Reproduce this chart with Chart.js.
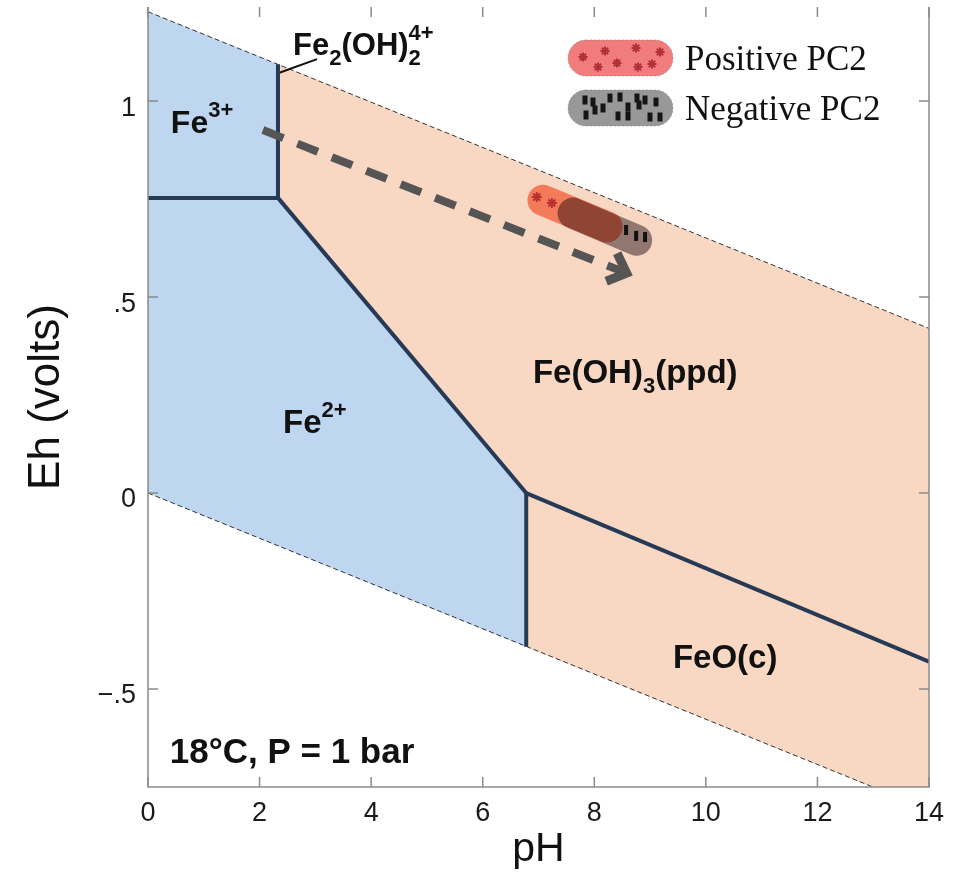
<!DOCTYPE html>
<html>
<head>
<meta charset="utf-8">
<script src="https://cdn.jsdelivr.net/npm/chart.js@4.4.0/dist/chart.umd.min.js"></script>
<style>
  html, body { margin: 0; padding: 0; background: #fff; }
  #wrap { width: 958px; height: 874px; }
</style>
</head>
<body>
<div id="wrap"><canvas id="chart" width="958" height="874"></canvas></div>
<script>
// axis ticks
const phTicks = [0, 2, 4, 6, 8, 10, 12, 14];
const ehTicks = [-0.5, 0, 0.5, 1];
const ehTickLabels = ['\u2212.5', '0', '.5', '1'];

// water stability limits (pH, Eh)
const o2LinePh = [0, 14];
const o2LineEh = [1.228, 0.42];
const h2LinePh = [0, 14];
const h2LineEh = [0, -0.808];

// phase boundaries
const fe3Fe2Ph = [0, 2.33];
const fe3Fe2Eh = [0.753, 0.753];
const fe3HydPh = [2.33, 2.33];
const fe3HydEh = [0.753, 1.094];
const fe2HydPh = [2.33, 6.78];
const fe2HydEh = [0.753, 0];
const fe2FeoPh = [6.78, 6.78];
const fe2FeoEh = [0, -0.392];
const hydFeoPh = [6.78, 14];
const hydFeoEh = [0, -0.43];
const leaderPh = [2.33, 3.03];
const leaderEh = [1.071, 1.107];

// stability fields (aqueous ions / solids)
const aqueousPh = [0, 2.33, 2.33, 6.78, 6.78, 0];
const aqueousEh = [1.228, 1.094, 0.753, 0, -0.392, 0];
const solidPh = [2.33, 14, 14, 6.78, 6.78, 2.33];
const solidEh = [1.094, 0.42, -0.808, -0.392, 0, 0.753];

// PC2 sample clusters
const posPc2Ph = [7.08, 8.23];
const posPc2Eh = [0.747, 0.679];
const negPc2Ph = [7.62, 8.76];
const negPc2Eh = [0.714, 0.645];
const posPointsPh = [6.97, 7.24];
const posPointsEh = [0.755, 0.74];
const negPointsPh = [8.57, 8.75, 8.91];
const negPointsEh = [0.671, 0.656, 0.653];

// trend arrow
const arrowPh = [2.06, 8.58];
const arrowEh = [0.926, 0.561];

const SANS = '"Liberation Sans", Arial, sans-serif';
const SERIF = '"Liberation Serif", "Times New Roman", serif';

function pts(xs, ys) {
    return xs.map((x, i) => ({ x: x, y: ys[i] }));
}

function lineSet(xs, ys, color, width, extra) {
    return Object.assign({
        data: pts(xs, ys),
        showLine: true,
        borderColor: color,
        borderWidth: width,
        pointRadius: 0,
        fill: false,
        order: 5
    }, extra || {});
}

const regionLabels = [
    { ph: 0.41, eh: 0.918, size: 32, parts: [{ t: 'Fe' }, { t: '3+', sup: true }] },
    { ph: 2.6, eh: 1.117, size: 31, parts: [{ t: 'Fe' }, { t: '2', sub: true }, { t: '(OH)' }, { t: '4+', sup: true, keep: true }, { t: '2', sub: true }] },
    { ph: 2.42, eh: 0.153, size: 33, parts: [{ t: 'Fe' }, { t: '2+', sup: true }] },
    { ph: 6.9, eh: 0.281, size: 33, parts: [{ t: 'Fe(OH)' }, { t: '3', sub: true }, { t: '(ppd)' }] },
    { ph: 9.41, eh: -0.446, size: 33, parts: [{ t: 'FeO(c)' }] },
    { ph: 0.39, eh: -0.689, size: 35, parts: [{ t: '18°C, P = 1 bar' }] }
];

const legendItems = [
    { label: 'Positive PC2', fill: 'rgb(241,124,124)', mark: 'star', markColor: 'rgb(176,50,56)' },
    { label: 'Negative PC2', fill: 'rgb(152,152,152)', mark: 'bar', markColor: '#151515' }
];

// decoration positions inside the legend capsules (offset from capsule left / middle)
const starMarks = [[15, -1], [37, -7], [30, 9], [49, 5], [68, -10], [70, 9], [84, 6], [92, -6]];
const barMarks = [[17, -8], [25, -6], [27, 2], [18, 7], [35, 0], [42, -10], [52, -11], [60, -1],
    [50, 8], [60, 8], [69, -10], [77, -8], [71, -3], [88, -6], [82, 9], [92, 9]];

const blendPlugin = {
    id: 'blend',
    beforeDatasetDraw(chart, args) {
        const ds = chart.data.datasets[args.index];
        if (ds.blend) {
            chart.ctx.save();
            chart.ctx.globalCompositeOperation = ds.blend;
        }
    },
    afterDatasetDraw(chart, args) {
        const ds = chart.data.datasets[args.index];
        if (ds.blend) chart.ctx.restore();
    }
};

const framePlugin = {
    id: 'frame',
    afterDatasetsDraw(chart) {
        const ctx = chart.ctx;
        const area = chart.chartArea;
        const xs = chart.scales.x;
        const ys = chart.scales.y;
        ctx.save();
        ctx.strokeStyle = '#8a8a8a';
        ctx.lineWidth = 1.5;
        ctx.beginPath();
        ctx.moveTo(area.left, area.top);
        ctx.lineTo(area.left, area.bottom);
        ctx.lineTo(area.right, area.bottom);
        ctx.lineTo(area.right, area.top);
        ctx.stroke();
        ctx.beginPath();
        phTicks.forEach(v => {
            const px = xs.getPixelForValue(v);
            ctx.moveTo(px, area.bottom);
            ctx.lineTo(px, area.bottom - 10);
            ctx.moveTo(px, area.top);
            ctx.lineTo(px, area.top + 10);
        });
        ehTicks.forEach(v => {
            const py = ys.getPixelForValue(v);
            ctx.moveTo(area.left, py);
            ctx.lineTo(area.left + 10, py);
            ctx.moveTo(area.right, py);
            ctx.lineTo(area.right - 10, py);
        });
        ctx.stroke();
        ctx.restore();
    }
};

const arrowPlugin = {
    id: 'arrowHead',
    afterDatasetsDraw(chart) {
        chart.data.datasets.forEach((ds, i) => {
            if (!ds.arrowHead) return;
            const pts = chart.getDatasetMeta(i).data;
            const a = pts[pts.length - 2];
            const b = pts[pts.length - 1];
            const ang = Math.atan2(b.y - a.y, b.x - a.x);
            const len = 22;
            const spread = 0.75;
            const ctx = chart.ctx;
            ctx.save();
            ctx.strokeStyle = ds.borderColor;
            ctx.lineWidth = ds.borderWidth + 1;
            ctx.lineJoin = 'miter';
            ctx.beginPath();
            ctx.moveTo(b.x - len * Math.cos(ang - spread), b.y - len * Math.sin(ang - spread));
            ctx.lineTo(b.x, b.y);
            ctx.lineTo(b.x - len * Math.cos(ang + spread), b.y - len * Math.sin(ang + spread));
            ctx.stroke();
            ctx.restore();
        });
    }
};

function drawRich(ctx, x, y, parts, size) {
    let cx = x;
    parts.forEach(p => {
        let fs = size;
        let dy = 0;
        if (p.sup) { fs = 22; dy = -0.5 * size; }
        if (p.sub) { fs = 22; dy = 0.3 * size; }
        ctx.font = 'bold ' + fs + 'px ' + SANS;
        ctx.fillText(p.t, cx, y + dy);
        if (!p.keep) cx += ctx.measureText(p.t).width;
    });
}

const labelPlugin = {
    id: 'labels',
    afterDraw(chart) {
        const ctx = chart.ctx;
        const xs = chart.scales.x;
        const ys = chart.scales.y;
        const area = chart.chartArea;
        ctx.save();
        ctx.fillStyle = '#111';
        ctx.textBaseline = 'alphabetic';
        ctx.textAlign = 'left';
        regionLabels.forEach(l => {
            drawRich(ctx, xs.getPixelForValue(l.ph), ys.getPixelForValue(l.eh), l.parts, l.size);
        });

        // legend
        const capLeft = area.right - 361;
        const capW = 105;
        const capH = 36;
        legendItems.forEach((item, i) => {
            const cy = area.top + 51 + i * 50;
            const r = capH / 2;
            ctx.beginPath();
            ctx.moveTo(capLeft + r, cy - r);
            ctx.lineTo(capLeft + capW - r, cy - r);
            ctx.arc(capLeft + capW - r, cy, r, -Math.PI / 2, Math.PI / 2);
            ctx.lineTo(capLeft + r, cy + r);
            ctx.arc(capLeft + r, cy, r, Math.PI / 2, Math.PI * 1.5);
            ctx.closePath();
            ctx.fillStyle = item.fill;
            ctx.fill();
            ctx.setLineDash([2, 2]);
            ctx.lineWidth = 1;
            ctx.strokeStyle = 'rgba(120,120,120,0.5)';
            ctx.stroke();
            ctx.setLineDash([]);
            if (item.mark === 'star') {
                ctx.strokeStyle = item.markColor;
                ctx.lineWidth = 2;
                starMarks.forEach(m => {
                    const mx = capLeft + m[0];
                    const my = cy + m[1];
                    ctx.beginPath();
                    for (let k = 0; k < 4; k++) {
                        const a = k * Math.PI / 4;
                        ctx.moveTo(mx - 4.5 * Math.cos(a), my - 4.5 * Math.sin(a));
                        ctx.lineTo(mx + 4.5 * Math.cos(a), my + 4.5 * Math.sin(a));
                    }
                    ctx.stroke();
                });
            } else {
                ctx.fillStyle = item.markColor;
                barMarks.forEach(m => {
                    ctx.fillRect(capLeft + m[0] - 2.5, cy + m[1] - 4.5, 5, 9);
                });
            }
            ctx.fillStyle = '#111';
            ctx.font = '35px ' + SERIF;
            ctx.fillText(item.label, capLeft + capW + 12, cy + 12);
        });
        ctx.restore();
    }
};

const datasets = [
    { data: pts(aqueousPh, aqueousEh), showLine: true, borderWidth: 0, pointRadius: 0,
      backgroundColor: '#bed6f0', fill: 'shape', order: 10 },
    { data: pts(solidPh, solidEh), showLine: true, borderWidth: 0, pointRadius: 0,
      backgroundColor: '#f9d8c3', fill: 'shape', order: 10 },
    lineSet(o2LinePh, o2LineEh, '#333', 1, { borderDash: [5, 3], order: 8 }),
    lineSet(h2LinePh, h2LineEh, '#333', 1, { borderDash: [5, 3], order: 8 }),
    lineSet(fe3Fe2Ph, fe3Fe2Eh, '#263a56', 4),
    lineSet(fe3HydPh, fe3HydEh, '#263a56', 4),
    lineSet(fe2HydPh, fe2HydEh, '#263a56', 4),
    lineSet(fe2FeoPh, fe2FeoEh, '#263a56', 4),
    lineSet(hydFeoPh, hydFeoEh, '#263a56', 4),
    lineSet(leaderPh, leaderEh, '#111', 2),
    lineSet(arrowPh, arrowEh, '#555', 8, { borderDash: [22, 15], arrowHead: true, order: 4 }),
    lineSet(posPc2Ph, posPc2Eh, 'rgba(243,118,84,0.95)', 31, { borderCapStyle: 'round', order: 3 }),
    lineSet(negPc2Ph, negPc2Eh, 'rgb(150,140,146)', 31, { borderCapStyle: 'round', blend: 'multiply', order: 2 }),
    { data: pts(posPointsPh, posPointsEh), pointStyle: 'star', pointRadius: 5, borderWidth: 2,
      borderColor: '#b83030', backgroundColor: '#b83030', showLine: false, order: 1 },
    { data: pts(negPointsPh, negPointsEh), pointStyle: 'line', rotation: 90, pointRadius: 5, borderWidth: 4,
      borderColor: '#111', backgroundColor: '#111', showLine: false, order: 1 }
];

new Chart(document.getElementById('chart'), {
    type: 'scatter',
    data: { datasets: datasets },
    plugins: [blendPlugin, framePlugin, arrowPlugin, labelPlugin],
    options: {
        responsive: false,
        animation: false,
        events: [],
        layout: { autoPadding: false, padding: { top: 7, right: 29, left: 0, bottom: 0 } },
        plugins: {
            legend: { display: false },
            tooltip: { enabled: false }
        },
        scales: {
            x: {
                type: 'linear',
                position: 'bottom',
                min: 0,
                max: 14,
                grid: { display: false, drawTicks: false },
                border: { display: false },
                afterBuildTicks: s => { s.ticks = phTicks.map(v => ({ value: v })); },
                afterFit: s => {
                    s.height = 87;
                    s.paddingLeft = 0;
                    s.paddingRight = 0;
                },
                ticks: {
                    font: { family: SANS, size: 27 },
                    color: '#1a1a1a',
                    padding: 10,
                    maxRotation: 0,
                    callback: v => String(v)
                },
                title: {
                    display: true,
                    text: 'pH',
                    font: { family: SANS, size: 41 },
                    color: '#111',
                    padding: { top: 0, bottom: 0 }
                }
            },
            y: {
                type: 'linear',
                min: -0.75,
                max: 1.24,
                grid: { display: false, drawTicks: false },
                border: { display: false },
                afterBuildTicks: s => { s.ticks = ehTicks.map(v => ({ value: v })); },
                afterFit: s => {
                    s.width = 148;
                    s.paddingTop = 0;
                    s.paddingBottom = 0;
                },
                ticks: {
                    font: { family: SANS, size: 27 },
                    color: '#1a1a1a',
                    padding: 12,
                    labelOffset: 7,
                    callback: v => ehTickLabels[ehTicks.indexOf(v)]
                },
                title: {
                    display: true,
                    text: 'Eh (volts)',
                    font: { family: SANS, size: 44 },
                    color: '#111',
                    padding: { top: 20, bottom: 0 }
                }
            }
        }
    }
});
</script>
</body>
</html>
